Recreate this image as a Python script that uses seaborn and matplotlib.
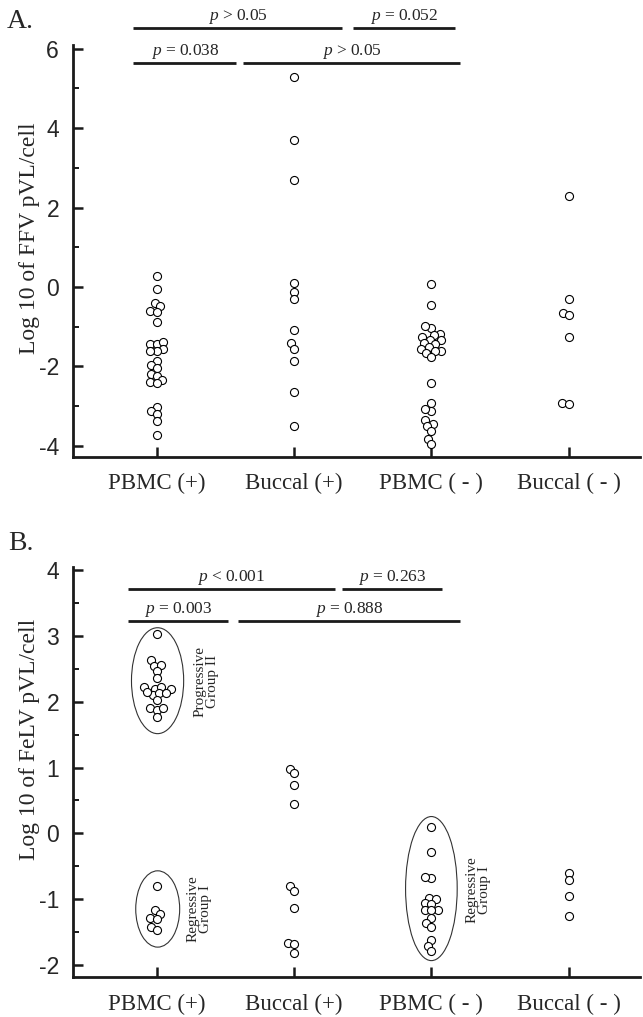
import pandas as pd
import matplotlib
matplotlib.use("Agg")
import matplotlib.pyplot as plt
import seaborn as sns
from seaborn import categorical as sns_cat
from matplotlib.patches import Ellipse

# --- data ---
groups = ["PBMC (+)", "Buccal (+)", "PBMC ( - )", "Buccal ( - )"]

# A. FFV
ffv_pbmc_pos = [0.29, -0.05, -0.39, -0.49, -0.61, -0.63, -0.87, -1.43, -1.43, -1.39,
                -1.57, -1.61, -1.60, -1.85, -1.97, -2.04, -2.18, -2.24, -2.34, -2.40,
                -2.42, -3.03, -3.13, -3.20, -3.38, -3.73]
ffv_buccal_pos = [5.30, 3.70, 2.70, 0.10, -0.13, -0.29, -1.07, -1.41, -1.55, -1.87,
                  -2.64, -3.49]
ffv_pbmc_neg = [0.07, -0.44, -1.03, -0.99, -1.18, -1.20, -1.26, -1.34, -1.33, -1.41,
                -1.43, -1.51, -1.55, -1.61, -1.61, -1.66, -1.75, -2.42, -2.91, -3.11,
                -3.08, -3.36, -3.45, -3.51, -3.63, -3.82, -3.95]
ffv_buccal_neg = [2.29, -0.29, -0.65, -0.71, -1.27, -2.91, -2.95]

# B. FeLV
felv_pbmc_pos_progressive = [3.03, 2.63, 2.55, 2.56, 2.46, 2.36, 2.20, 2.20, 2.23, 2.23,
                             2.10, 2.13, 2.13, 2.15, 2.02, 1.90, 1.87, 1.91, 1.77]
felv_pbmc_pos_regressive = [-0.80, -1.17, -1.22, -1.28, -1.30, -1.42, -1.47]
felv_buccal_pos = [0.98, 0.91, 0.73, 0.45, -0.80, -0.87, -1.14, -1.66, -1.68, -1.82]
felv_pbmc_neg = [0.09, -0.29, -0.68, -0.67, -0.98, -1.00, -1.06, -1.07, -1.17, -1.17,
                 -1.17, -1.29, -1.37, -1.43, -1.62, -1.71, -1.79]
felv_buccal_neg = [-0.60, -0.71, -0.96, -1.26]

p_labels_a = ["$p$ > 0.05", "$p$ = 0.052", "$p$ = 0.038", "$p$ > 0.05"]
p_labels_b = ["$p$ < 0.001", "$p$ = 0.263", "$p$ = 0.003", "$p$ = 0.888"]


def make_df(series):
    rows = []
    for name, vals in zip(groups, series):
        for v in vals:
            rows.append({"group": name, "value": v})
    return pd.DataFrame(rows)


df_a = make_df([ffv_pbmc_pos, ffv_buccal_pos, ffv_pbmc_neg, ffv_buccal_neg])
df_b = make_df([felv_pbmc_pos_progressive + felv_pbmc_pos_regressive,
                felv_buccal_pos, felv_pbmc_neg, felv_buccal_neg])

# the original swarm lets circles overlap a bit: lay out with smaller radii
_swarm = sns_cat.Beeswarm.__call__


def _tight_swarm(self, points, center):
    sizes = points.get_sizes().copy()
    points.set_sizes(sizes * 0.42)
    _swarm(self, points, center)
    points.set_sizes(sizes)


sns_cat.Beeswarm.__call__ = _tight_swarm

# --- style ---
sns.set_theme(style="ticks")
plt.rcParams["font.family"] = ["Liberation Serif", "DejaVu Serif"]
plt.rcParams["mathtext.fontset"] = "custom"
plt.rcParams["mathtext.rm"] = "Liberation Serif"
plt.rcParams["mathtext.it"] = "Liberation Serif:italic"
plt.rcParams["axes.unicode_minus"] = False

fig = plt.figure(figsize=(6.43, 10.17), dpi=100)
ax_a = fig.add_axes([0.1135, 0.551, 0.882, 0.405])
ax_b = fig.add_axes([0.1135, 0.0396, 0.882, 0.403])


def draw_panel(ax, df, ylim, major, minor, ylabel, label_y, brackets, labels):
    sns.swarmplot(data=df, x="group", y="value", order=groups, ax=ax,
                  color="white", edgecolor="black", linewidth=0.8, size=5.8)
    ax.set_xlim(-0.61, 3.52)
    ax.set_ylim(*ylim)
    sns.despine(ax=ax)
    for s in ["left", "bottom"]:
        ax.spines[s].set_linewidth(2.0)
        ax.spines[s].set_color("#1a1a1a")
    ax.set_yticks(major)
    ax.set_yticklabels([str(v) for v in major], fontfamily="Liberation Sans",
                       fontsize=16.5)
    ax.set_yticks(minor, minor=True)
    ax.tick_params(axis="y", which="major", direction="in", length=7, width=1.8,
                   pad=10, color="#1a1a1a")
    ax.tick_params(axis="y", which="minor", direction="in", length=4, width=1.4,
                   color="#1a1a1a")
    ax.tick_params(axis="x", direction="in", length=7, width=1.8, pad=12,
                   color="#1a1a1a")
    ax.set_xticks(range(len(groups)))
    ax.set_xticklabels(groups, fontsize=16.5)
    ax.set_xlabel("")
    ax.set_ylabel(ylabel, fontsize=17)
    ax.yaxis.set_label_coords(-0.058, label_y)
    for (x0, x1, y), lab in zip(brackets, labels):
        ax.plot([x0, x1], [y, y], color="#1a1a1a", lw=2.0, clip_on=False,
                solid_capstyle="butt")
        ax.annotate(lab, xy=((x0 + x1) / 2, y), xytext=(0, 1.5),
                    textcoords="offset points", ha="center", va="bottom",
                    fontsize=12.5, annotation_clip=False)


draw_panel(ax_a, df_a, (-4.27, 6.1), [-4, -2, 0, 2, 4, 6], [-3, -1, 1, 3, 5],
           "Log 10 of FFV pVL/cell", 0.53,
           [(-0.17, 1.35, 6.52), (1.43, 2.17, 6.52),
            (-0.17, 0.58, 5.65), (0.63, 2.21, 5.65)], p_labels_a)

draw_panel(ax_b, df_b, (-2.18, 4.05), [-2, -1, 0, 1, 2, 3, 4],
           [-1.5, -0.5, 0.5, 1.5, 2.5, 3.5],
           "Log 10 of FeLV pVL/cell", 0.58,
           [(-0.21, 1.30, 3.72), (1.35, 2.08, 3.72),
            (-0.21, 0.52, 3.23), (0.59, 2.21, 3.23)], p_labels_b)

# group ellipses and labels in panel B
for (cx, cy, w, h) in [(0.006, 2.32, 0.38, 1.61), (0.007, -1.15, 0.32, 1.16),
                       (2.0, -0.84, 0.376, 2.19)]:
    ax_b.add_patch(Ellipse((cx, cy), w, h, fill=False, edgecolor="#333333", lw=0.8))
ax_b.text(0.36, 2.31, "Progressive\nGroup II", rotation=90, ha="center",
          va="center", fontsize=11, linespacing=1.0)
ax_b.text(0.31, -1.15, "Regressive\nGroup I", rotation=90, ha="center",
          va="center", fontsize=11, linespacing=1.0)
ax_b.text(2.34, -0.86, "Regressive\nGroup I", rotation=90, ha="center",
          va="center", fontsize=11, linespacing=1.0)

fig.text(0.011, 1 - 28 / 1017, "A.", fontsize=20)
fig.text(0.012, 1 - 550 / 1017, "B.", fontsize=20)

fig.savefig("out.png", dpi=100)
